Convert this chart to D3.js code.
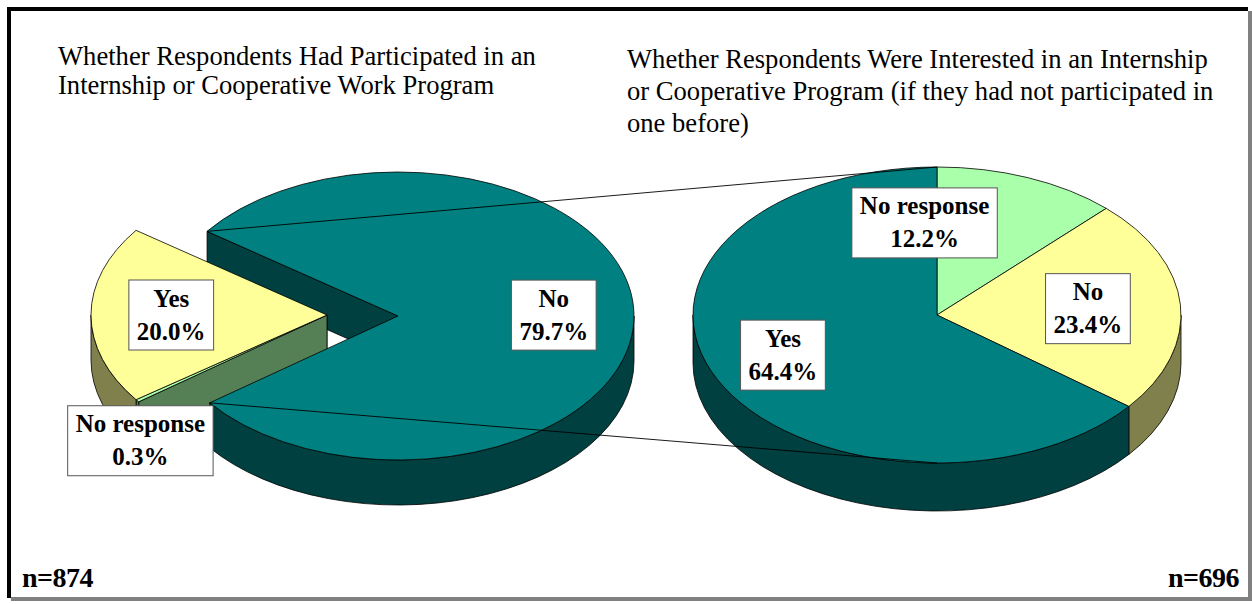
<!DOCTYPE html>
<html>
<head>
<meta charset="utf-8">
<script src="https://cdn.jsdelivr.net/npm/d3@7"></script>
<style>
  body { margin: 0; background: #ffffff; }
  svg { display: block; }
</style>
</head>
<body>
<svg id="chart" width="1252" height="604"></svg>
<script>
// ---- data ----
const participatedCategories = ["No", "No response", "Yes"];
const participatedValues = [79.7, 0.3, 20.0];

const interestedCategories = ["No response", "No", "Yes"];
const interestedValues = [12.2, 23.4, 64.4];

const participatedTitle = [
  "Whether Respondents Had Participated in an",
  "Internship or Cooperative Work Program"
];
const interestedTitle = [
  "Whether Respondents Were Interested in an Internship",
  "or Cooperative Program (if they had not participated in",
  "one before)"
];
const sampleSizes = ["n=874", "n=696"];

// ---- styling ----
const TEAL = { top: "#008080", side: "#004040" };
const YELLOW = { top: "#FFFF99", side: "#80804C" };
const MINT = { top: "#AAFFAA", side: "#558055" };
const leftColors = { "No": TEAL, "Yes": YELLOW, "No response": MINT };
const rightColors = { "Yes": TEAL, "No": YELLOW, "No response": MINT };
const serif = "'Liberation Serif', 'Times New Roman', serif";

const svg = d3.select("#chart");

// frame
svg.append("rect").attr("x", 7).attr("y", 7).attr("width", 1241).attr("height", 4).attr("fill", "#000");
svg.append("rect").attr("x", 7).attr("y", 7).attr("width", 4).attr("height", 591).attr("fill", "#000");
svg.append("rect").attr("x", 1248).attr("y", 11).attr("width", 4).attr("height", 590).attr("fill", "#808080");
svg.append("rect").attr("x", 11).attr("y", 597).attr("width", 1241).attr("height", 4).attr("fill", "#808080");

// titles
function drawTitle(lines, x, y0, lh) {
  const t = svg.append("text")
    .attr("font-family", serif).attr("font-size", 26.6).attr("fill", "#000");
  lines.forEach((s, i) => t.append("tspan").attr("x", x).attr("y", y0 + i * lh).text(s));
}
drawTitle(participatedTitle, 58, 65, 29);
drawTitle(interestedTitle, 627, 68, 32);

// sample sizes
svg.append("text").attr("x", 22).attr("y", 587)
  .attr("font-family", serif).attr("font-weight", "bold").attr("font-size", 28)
  .attr("letter-spacing", -0.5)
  .text(sampleSizes[0]);
svg.append("text").attr("x", 1239).attr("y", 587).attr("text-anchor", "end")
  .attr("font-family", serif).attr("font-weight", "bold").attr("font-size", 28)
  .attr("letter-spacing", -0.5)
  .text(sampleSizes[1]);

// ---- 3D elliptical pie helpers ----
const deg = Math.PI / 180;

function makeSlices(cats, vals, startDeg) {
  const pie = d3.pie().sort(null)
    .startAngle(startDeg * deg).endAngle(startDeg * deg + 2 * Math.PI);
  return pie(vals).map((d, i) => ({
    cat: cats[i], value: vals[i],
    // screen angle: 0 = right, clockwise
    t0: d.startAngle - Math.PI / 2,
    t1: d.endAngle - Math.PI / 2
  }));
}

function pt(g, t, dy) {
  return [g.cx + g.rx * Math.cos(t), g.cy + g.ry * Math.sin(t) + (dy || 0)];
}

function topPath(g, s) {
  const a = pt(g, s.t0), b = pt(g, s.t1);
  const large = (s.t1 - s.t0) > Math.PI ? 1 : 0;
  return `M${g.cx},${g.cy}L${a[0]},${a[1]}A${g.rx},${g.ry} 0 ${large} 1 ${b[0]},${b[1]}Z`;
}

function sidePaths(g, s) {
  const out = [];
  for (let k = -2; k <= 2; k++) {
    const lo = Math.max(s.t0, 2 * Math.PI * k), hi = Math.min(s.t1, 2 * Math.PI * k + Math.PI);
    if (hi - lo > 1e-6) {
      const a = pt(g, lo), b = pt(g, hi), b2 = pt(g, hi, g.depth), a2 = pt(g, lo, g.depth);
      out.push(`M${a[0]},${a[1]}A${g.rx},${g.ry} 0 0 1 ${b[0]},${b[1]}L${b2[0]},${b2[1]}` +
               `A${g.rx},${g.ry} 0 0 0 ${a2[0]},${a2[1]}Z`);
    }
  }
  return out;
}

function radialPaths(g, s) {
  const out = [];
  const faces = [];
  if (Math.cos(s.t0) < 0) faces.push(s.t0);
  if (Math.cos(s.t1) > 0) faces.push(s.t1);
  faces.forEach(t => {
    const r = pt(g, t), r2 = pt(g, t, g.depth);
    out.push(`M${g.cx},${g.cy}L${r[0]},${r[1]}L${r2[0]},${r2[1]}L${g.cx},${g.cy + g.depth}Z`);
  });
  return out;
}

function drawPaths(layer, paths, fill) {
  paths.forEach(p => layer.append("path").attr("d", p)
    .attr("fill", fill).attr("stroke", "#000").attr("stroke-width", 0.8)
    .attr("stroke-linejoin", "round"));
}

function label(layer, x, y, lines) {
  const g = layer.append("g");
  const t = g.append("text").attr("font-family", serif).attr("font-weight", "bold")
    .attr("font-size", 25).attr("text-anchor", "middle").attr("fill", "#000");
  const lh = 33;
  lines.forEach((s, i) => t.append("tspan").attr("x", x).attr("y", y - lh / 2 + 8 + i * lh).text(s));
  const w = d3.max(t.selectAll("tspan").nodes(), n => n.getComputedTextLength());
  const bw = w + 16, bh = 70;
  g.insert("rect", "text").attr("x", x - bw / 2).attr("y", y - bh / 2)
    .attr("width", bw).attr("height", bh)
    .attr("fill", "#fff").attr("stroke", "#555").attr("stroke-width", 1);
}

// ---- left pie: participation, with Yes / No response pulled out ----
const leftGeom = { cx: 398, cy: 316, rx: 236, ry: 144, depth: 45 };
const pulled = { dx: -71, dy: -1 };
const leftSlices = makeSlices(participatedCategories, participatedValues, 306);
const leftMain = leftSlices.filter(s => s.cat === "No");
const leftOut = leftSlices.filter(s => s.cat !== "No");
const outGeom = Object.assign({}, leftGeom, { cx: leftGeom.cx + pulled.dx, cy: leftGeom.cy + pulled.dy });

const leftLayer = svg.append("g");
leftMain.forEach(s => drawPaths(leftLayer, radialPaths(leftGeom, s), leftColors[s.cat].side));
leftOut.slice().reverse().forEach(s => drawPaths(leftLayer, radialPaths(outGeom, s), leftColors[s.cat].side));
leftOut.forEach(s => drawPaths(leftLayer, sidePaths(outGeom, s), leftColors[s.cat].side));
leftOut.forEach(s => drawPaths(leftLayer, [topPath(outGeom, s)], leftColors[s.cat].top));
leftMain.forEach(s => drawPaths(leftLayer, sidePaths(leftGeom, s), leftColors[s.cat].side));
leftMain.forEach(s => drawPaths(leftLayer, [topPath(leftGeom, s)], leftColors[s.cat].top));

// ---- right pie: interest among non-participants ----
const rightGeom = { cx: 937, cy: 315, rx: 244, ry: 148, depth: 48 };
const rightSlices = makeSlices(interestedCategories, interestedValues, 0);
const rightLayer = svg.append("g");
rightSlices.forEach(s => drawPaths(rightLayer, sidePaths(rightGeom, s), rightColors[s.cat].side));
rightSlices.forEach(s => drawPaths(rightLayer, [topPath(rightGeom, s)], rightColors[s.cat].top));

// ---- connector lines from the "No" slice to the breakdown pie ----
const noSlice = leftMain[0];
const c1a = pt(leftGeom, noSlice.t0), c1b = pt(rightGeom, -Math.PI / 2);
const c2a = pt(leftGeom, noSlice.t1), c2b = pt(rightGeom, Math.PI / 2);
const lines = svg.append("g").attr("stroke", "#000").attr("stroke-width", 0.9);
lines.append("line").attr("x1", c1a[0]).attr("y1", c1a[1]).attr("x2", c1b[0]).attr("y2", c1b[1]);
lines.append("line").attr("x1", c2a[0]).attr("y1", c2a[1]).attr("x2", c2b[0]).attr("y2", c2b[1]);

// ---- data labels ----
const labelLayer = svg.append("g");
function placeLabels(slices, geomFor, rFactor, nudges) {
  slices.forEach(s => {
    const g = geomFor(s);
    const n = nudges[s.cat] || {};
    const mid = (s.t0 + s.t1) / 2;
    const r = n.r !== undefined ? n.r : rFactor;
    const x = g.cx + g.rx * r * Math.cos(mid) + (n.dx || 0);
    const y = g.cy + g.ry * r * Math.sin(mid) + (n.dy || 0);
    label(labelLayer, x, y, [s.cat, s.value.toFixed(1) + "%"]);
  });
}
placeLabels(leftSlices, s => (s.cat === "No" ? leftGeom : outGeom), 0.66,
  { "No response": { r: 1.0, dx: 3, dy: 40 } });
placeLabels(rightSlices, () => rightGeom, 0.62,
  { "No response": { dx: -69, dy: -7 }, "Yes": { dx: -18, dy: 0 } });
</script>
</body>
</html>
